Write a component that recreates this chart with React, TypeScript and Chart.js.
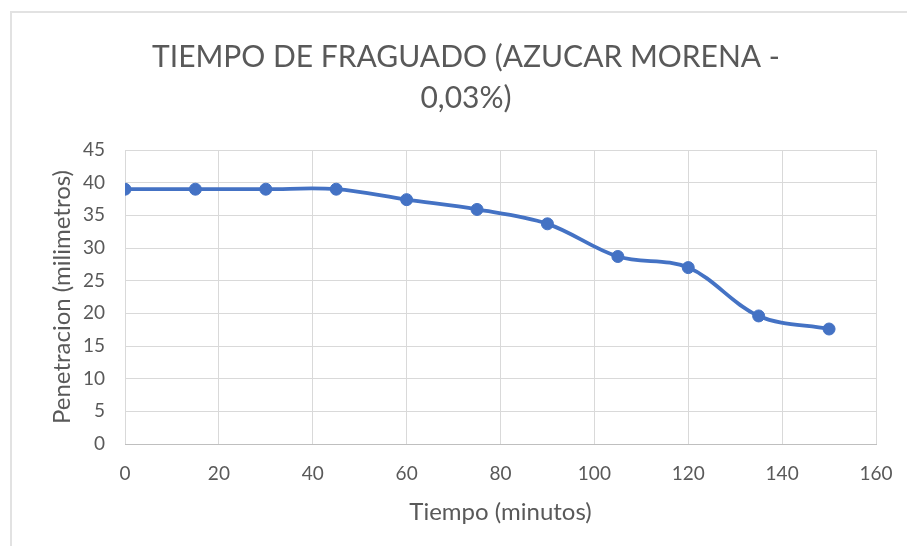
import React, { useEffect, useRef } from "react";
import { Chart, registerables } from "chart.js";

Chart.register(...registerables);

const titleLines = ["TIEMPO DE FRAGUADO (AZUCAR MORENA -", "0,03%)"];
const xLabel = "Tiempo (minutos)";
const yLabel = "Penetracion (milimetros)";
const tiempo = [0, 15, 30, 45, 60, 75, 90, 105, 120, 135, 150];
const penetracion = [39, 39, 39, 39, 37.4, 35.9, 33.7, 28.7, 27.0, 19.6, 17.6];

const FONT = "Lato, 'Open Sans', sans-serif";
const TEXT = "#595959";

const titlePlugin = {
  id: "manualTitle",
  afterDraw(chart: any) {
    const ctx = chart.ctx;
    ctx.save();
    ctx.fillStyle = TEXT;
    ctx.font = `30px ${FONT}`;
    ctx.textAlign = "center";
    ctx.textBaseline = "middle";
    ctx.fillText(titleLines[0], 466, 57);
    ctx.fillText(titleLines[1], 466, 98);
    ctx.restore();
  },
};

export default function App() {
  const ref = useRef<HTMLCanvasElement>(null);
  useEffect(() => {
    if (!ref.current) return;
    const chart = new Chart(ref.current, {
      type: "line",
      data: {
        datasets: [
          {
            data: tiempo.map((t, i) => ({ x: t, y: penetracion[i] })),
            borderColor: "#4472C4",
            backgroundColor: "#4472C4",
            borderWidth: 3.8,
            pointRadius: 6,
            pointBorderWidth: 1,
            pointBackgroundColor: "#4472C4",
            pointBorderColor: "#4472C4",
            tension: 0.35,
            fill: false,
          },
        ],
      },
      options: {
        animation: false,
        responsive: false,
        maintainAspectRatio: false,
        layout: { padding: { left: 44, right: 31, top: 150, bottom: 15 } },
        plugins: {
          legend: { display: false },
          title: { display: false },
          tooltip: { enabled: false },
        },
        scales: {
          x: {
            type: "linear",
            min: 0,
            max: 160,
            ticks: { stepSize: 20, color: TEXT, font: { family: FONT, size: 19 }, padding: 18 },
            grid: { color: "#d9d9d9", drawTicks: false, lineWidth: 1 },
            border: { color: "#bfbfbf", width: 1 },
            title: { display: true, text: xLabel, color: TEXT, font: { family: FONT, size: 24 }, padding: { top: 4, bottom: 4 } },
            afterFit: (s: any) => { s.height = 87; s.paddingRight = 0; s.paddingLeft = 0; },
          },
          y: {
            min: 0,
            max: 45,
            ticks: { stepSize: 5, color: TEXT, font: { family: FONT, size: 19 }, padding: 20 },
            grid: { color: "#d9d9d9", drawTicks: false, lineWidth: 1 },
            border: { display: false },
            title: { display: true, text: yLabel, color: TEXT, font: { family: FONT, size: 24 }, padding: { top: 4, bottom: 4 } },
            afterFit: (s: any) => { s.width = 125 - 44; s.paddingTop = 0; s.paddingBottom = 0; },
          },
        },
      },
      plugins: [titlePlugin],
    });
    return () => chart.destroy();
  }, []);
  return (
    <div style={{ position: "absolute", left: 0, top: 0, width: 907, height: 546, background: "#fff", overflow: "hidden" }}>
      <div style={{ position: "absolute", left: 10, top: 11, width: 1000, height: 1000, border: "2px solid #e2e2e2" }} />
      <canvas ref={ref} width={907} height={546} style={{ position: "absolute", left: 0, top: 0 }} />
    </div>
  );
}
